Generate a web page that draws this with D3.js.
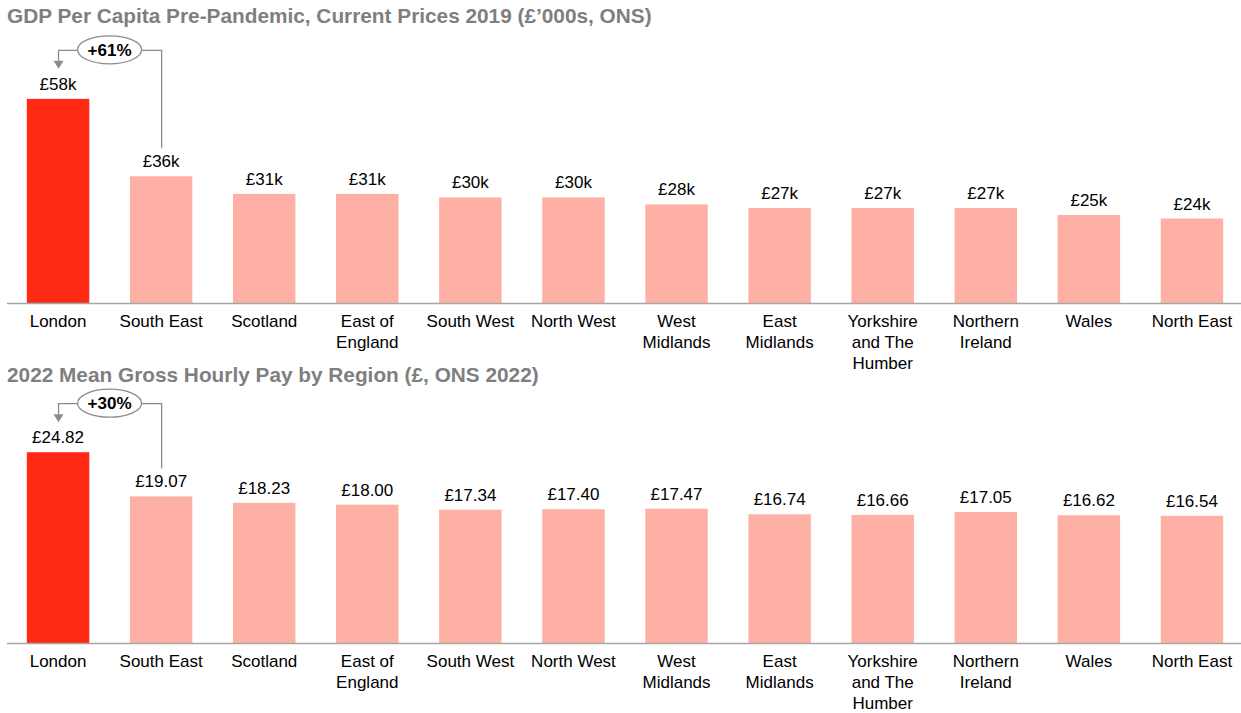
<!DOCTYPE html>
<html>
<head>
<meta charset="utf-8">
<script src="https://cdn.jsdelivr.net/npm/d3@7"></script>
<style>
  html, body { margin: 0; padding: 0; background: #fff; }
  svg { display: block; font-family: "Liberation Sans", Arial, sans-serif; }
</style>
</head>
<body>
<svg id="chart" width="1241" height="713"></svg>
<script>
// Regions, in display order
const regions = ["London", "South East", "Scotland", "East of England", "South West",
  "North West", "West Midlands", "East Midlands", "Yorkshire and The Humber",
  "Northern Ireland", "Wales", "North East"];

// GDP per capita, 2019 current prices (£'000s)
const gdpPerCapita = [58, 36, 31, 31, 30, 30, 28, 27, 27, 27, 25, 24];

// Mean gross hourly pay, 2022 (£)
const hourlyPay = [24.82, 19.07, 18.23, 18.00, 17.34, 17.40, 17.47, 16.74, 16.66, 17.05, 16.62, 16.54];

const titles = [
  "GDP Per Capita Pre-Pandemic, Current Prices 2019 (£’000s, ONS)",
  "2022 Mean Gross Hourly Pay by Region (£, ONS 2022)"
];
const gapLabels = ["+61%", "+30%"];

const svg = d3.select("#chart");
const highlight = "#ff2a14";
const muted = "#ffb0a4";
const guide = "#8c8c8c";

const x = d3.scaleBand()
  .domain(regions)
  .range([6.5, 1243.5])
  .paddingInner(0.394)
  .paddingOuter(0.197);

const panels = [
  { values: gdpPerCapita, title: titles[0], gap: gapLabels[0], titleY: 23,
    y: d3.scaleLinear().domain([0, 75]).range([303, 39]),
    fmt: v => "£" + v + "k" },
  { values: hourlyPay, title: titles[1], gap: gapLabels[1], titleY: 382,
    y: d3.scaleLinear().domain([0, 32]).range([643, 397]),
    fmt: v => "£" + v.toFixed(2) }
];

function wrap(textSel, width) {
  textSel.each(function () {
    const text = d3.select(this);
    const words = text.text().split(/\s+/);
    text.text(null);
    let line = [];
    let lineNo = 0;
    let tspan = text.append("tspan").attr("x", 0).attr("dy", 0);
    words.forEach(w => {
      line.push(w);
      tspan.text(line.join(" "));
      if (tspan.node().getComputedTextLength() > width && line.length > 1) {
        line.pop();
        tspan.text(line.join(" "));
        line = [w];
        lineNo++;
        tspan = text.append("tspan").attr("x", 0).attr("dy", 21).text(w);
      }
    });
  });
}

panels.forEach(p => {
  const g = svg.append("g");
  const y = p.y;
  const base = y(0);

  g.append("text")
    .attr("x", 7)
    .attr("y", p.titleY)
    .attr("fill", "#7f7f7f")
    .attr("font-weight", "bold")
    .attr("font-size", 20.8)
    .text(p.title);

  const data = regions.map((r, i) => ({ region: r, value: p.values[i] }));

  g.selectAll("rect.bar")
    .data(data)
    .join("rect")
    .attr("class", "bar")
    .attr("x", d => x(d.region))
    .attr("width", x.bandwidth())
    .attr("y", d => y(d.value))
    .attr("height", d => base - y(d.value))
    .attr("fill", (d, i) => i === 0 ? highlight : muted);

  g.selectAll("text.val")
    .data(data)
    .join("text")
    .attr("class", "val")
    .attr("x", d => x(d.region) + x.bandwidth() / 2)
    .attr("y", d => y(d.value) - 9)
    .attr("text-anchor", "middle")
    .attr("font-size", 17)
    .attr("fill", "#000")
    .text(d => p.fmt(d.value));

  // Category axis
  const axis = g.append("g")
    .attr("transform", `translate(0,${base})`)
    .call(d3.axisBottom(x).tickSize(0).tickPadding(0));
  axis.select(".domain").remove();
  axis.selectAll(".tick text")
    .attr("font-size", 17)
    .attr("font-family", "Liberation Sans, Arial, sans-serif")
    .attr("fill", "#000")
    .attr("y", 24)
    .attr("dy", 0)
    .call(wrap, 95);
  axis.selectAll(".tick text tspan").attr("x", 0);

  g.append("line")
    .attr("x1", 7).attr("x2", 1241)
    .attr("y1", base + 0.5).attr("y2", base + 0.5)
    .attr("stroke", "#a6a6a6")
    .attr("stroke-width", 1.3);

  // Gap callout between the top two regions
  const xL = x(regions[0]) + x.bandwidth() / 2;
  const xS = x(regions[1]) + x.bandwidth() / 2;
  const topL = y(p.values[0]);
  const topS = y(p.values[1]);
  const cx = (xL + xS) / 2;
  const cy = topL - 49;
  const rx = 32, ry = 14;
  const tip = topL - 30;

  g.append("path")
    .attr("d", `M${cx - rx},${cy + 0.5}H${xL + 0.5}V${tip - 8}`)
    .attr("fill", "none").attr("stroke", guide).attr("stroke-width", 1.3);
  g.append("path")
    .attr("d", `M${xL + 0.5 - 5},${tip - 8}L${xL + 0.5 + 5},${tip - 8}L${xL + 0.5},${tip}Z`)
    .attr("fill", guide);
  g.append("path")
    .attr("d", `M${cx + rx},${cy + 0.5}H${xS + 0.5}V${topS - 28}`)
    .attr("fill", "none").attr("stroke", guide).attr("stroke-width", 1.3);
  g.append("ellipse")
    .attr("cx", cx).attr("cy", cy)
    .attr("rx", rx).attr("ry", ry)
    .attr("fill", "#fff").attr("stroke", guide).attr("stroke-width", 1.3);
  g.append("text")
    .attr("x", cx).attr("y", cy + 6)
    .attr("text-anchor", "middle")
    .attr("font-weight", "bold")
    .attr("font-size", 17)
    .attr("fill", "#000")
    .text(p.gap);
});
</script>
</body>
</html>
